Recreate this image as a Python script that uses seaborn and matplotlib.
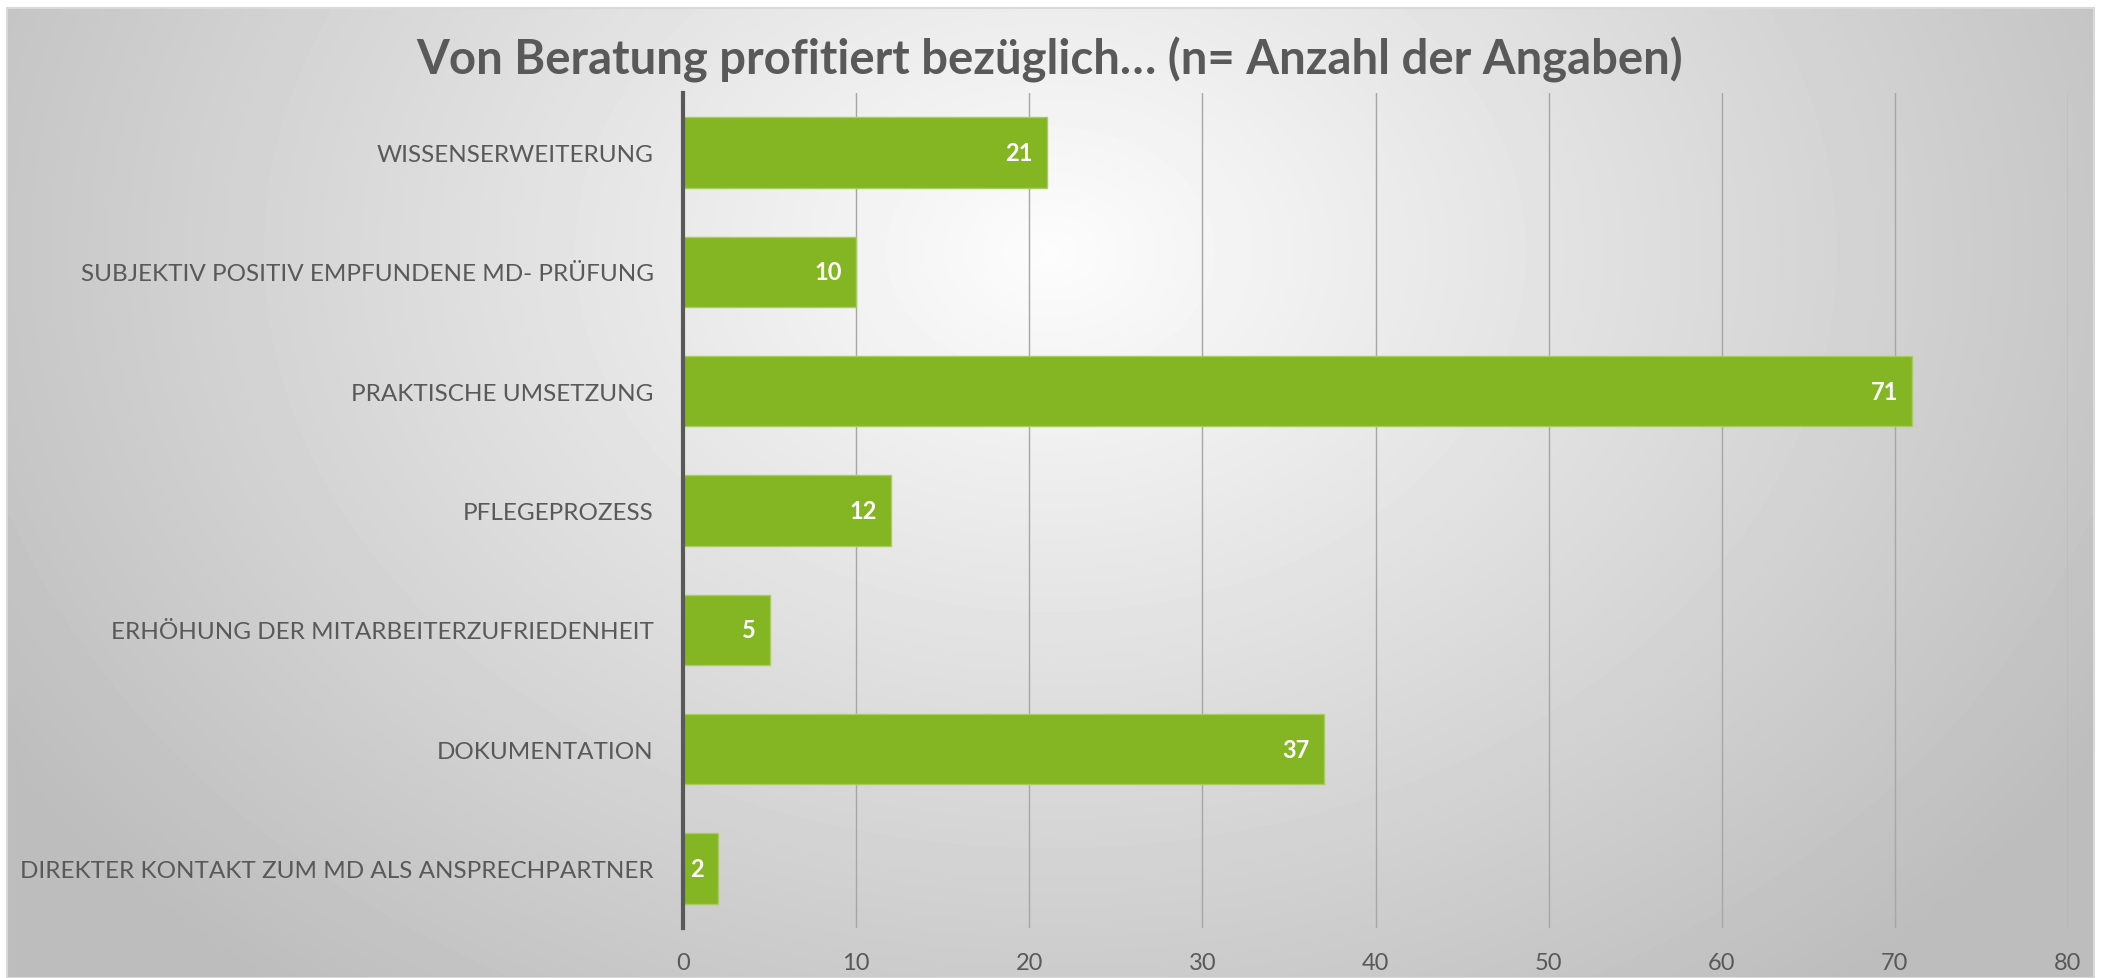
import numpy as np
import pandas as pd
import matplotlib
matplotlib.use('Agg')
import matplotlib.pyplot as plt
from matplotlib.patches import Rectangle
import seaborn as sns

# Data (top to bottom)
categories = ['WISSENSERWEITERUNG',
              'SUBJEKTIV POSITIV EMPFUNDENE MD- PRÜFUNG',
              'PRAKTISCHE UMSETZUNG',
              'PFLEGEPROZESS',
              'ERHÖHUNG DER MITARBEITERZUFRIEDENHEIT',
              'DOKUMENTATION',
              'DIREKTER KONTAKT ZUM MD ALS ANSPRECHPARTNER']
counts = [21, 10, 71, 12, 5, 37, 2]
x_ticks = [0, 10, 20, 30, 40, 50, 60, 70, 80]

df = pd.DataFrame({'kategorie': categories, 'anzahl': counts})

sns.set_style('white')
plt.rcParams['font.family'] = ['Lato', 'DejaVu Sans']

fig = plt.figure(figsize=(21.03, 9.79), dpi=100)
fig.patch.set_facecolor('white')

# radial gradient background of the chart area
bg_left, bg_bottom = 7 / 2103, 0.0
bg_w, bg_h = (2094 - 7) / 2103, 1 - 9 / 979
bg = fig.add_axes([bg_left, bg_bottom, bg_w, bg_h], zorder=-2)
gx, gy = np.meshgrid(np.linspace(0, 1, 400), np.linspace(0, 1, 200))
r = np.sqrt(((gx - 0.5) / 0.55) ** 2 + ((gy - 0.25) / 0.9) ** 2)
vals = np.clip(0.99 - 0.23 * r, 0.74, 1.0)
bg.imshow(vals, cmap='gray', vmin=0, vmax=1, aspect='auto',
          extent=[0, 1, 1, 0], interpolation='bilinear')
bg.set_axis_off()
fig.patches.append(Rectangle((bg_left, bg_bottom), bg_w, bg_h, transform=fig.transFigure,
                             fill=False, edgecolor='#D9D9D9', linewidth=1.5, zorder=-1))

ax = fig.add_axes([683 / 2103, 1 - 929 / 979, (2068 - 683) / 2103, (929 - 94) / 979])
ax.patch.set_alpha(0)

sns.barplot(data=df, x='anzahl', y='kategorie', orient='h', color='#84B523',
            width=0.59, saturation=1, edgecolor='#A8CC60', linewidth=1,
            ax=ax, zorder=3)

ax.set_xlim(0, 80)
ax.set_ylim(6.5, -0.5)
ax.set_xticks(x_ticks)
ax.set_xlabel('')
ax.set_ylabel('')
ax.grid(axis='x', color='#A6A6A6', linewidth=1, zorder=0)
ax.grid(axis='y', visible=False)
for s in ['top', 'right', 'bottom']:
    ax.spines[s].set_visible(False)
ax.spines['left'].set_color('#595959')
ax.spines['left'].set_linewidth(3)
ax.spines['left'].set_zorder(4)
ax.tick_params(axis='y', length=0, pad=21, labelsize=17.5, labelcolor='#595959')
ax.tick_params(axis='x', length=0, pad=17, labelsize=17, labelcolor='#595959')

for container in ax.containers:
    ax.bar_label(container, padding=-10, color='white',
                 fontsize=17, fontweight='bold', label_type='edge',
                 labels=[f'{v:g}' for v in container.datavalues])
# labels sit inside the bar end
for t in ax.texts:
    t.set_ha('right')
    t.set_va('center')

fig.text(1050 / 2103, 1 - 60 / 979, 'Von Beratung profitiert bezüglich… (n= Anzahl der Angaben)',
         ha='center', va='center', fontsize=34, fontweight='bold', color='#595959')

fig.savefig('out.png', dpi=100, facecolor='white')
